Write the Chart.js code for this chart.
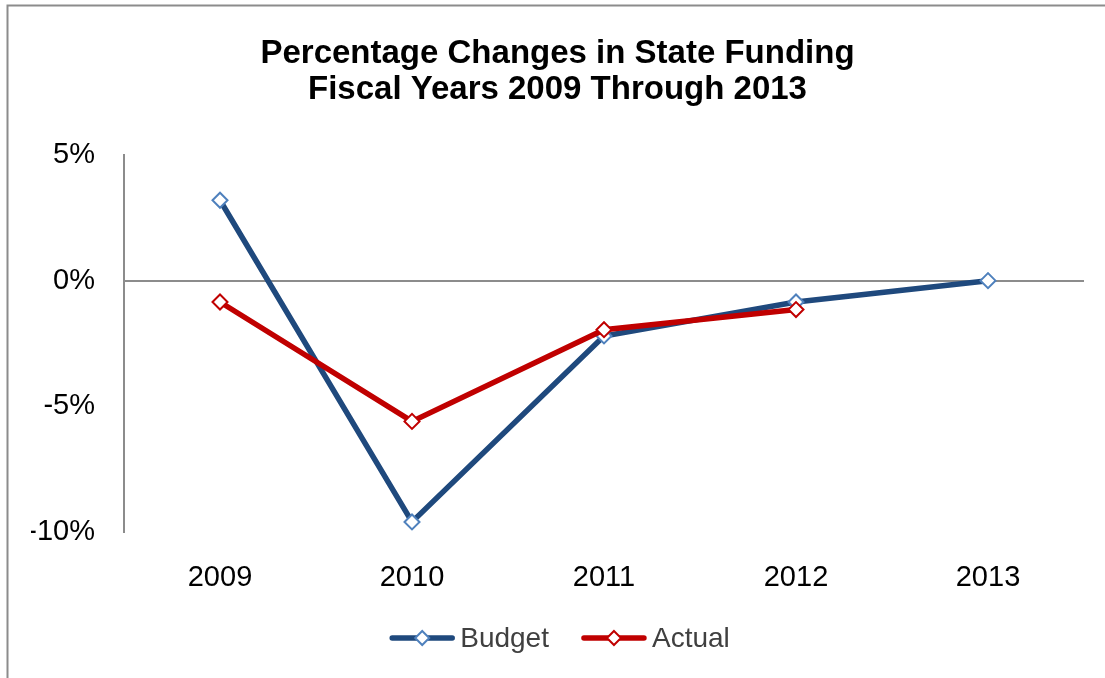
<!DOCTYPE html>
<html>
<head>
<meta charset="utf-8">
<script src="https://cdn.jsdelivr.net/npm/chart.js@4/dist/chart.umd.min.js"></script>
<style>
  html, body { margin: 0; padding: 0; background: #fff; }
  #wrap { position: relative; width: 1105px; height: 678px; }
</style>
</head>
<body>
<div id="wrap"><canvas id="c" width="1105" height="678"></canvas></div>
<script>
const categories = ['2009', '2010', '2011', '2012', '2013'];
const budgetValues = [3.2, -9.6, -2.2, -0.85, 0];
const actualValues = [-0.85, -5.6, -1.95, -1.15, null];
const yTicks = [5, 0, -5, -10];
const titleLines = ['Percentage Changes in State Funding', 'Fiscal Years 2009 Through 2013'];
const seriesNames = ['Budget', 'Actual'];

const BUDGET_LINE = '#1F497D';
const BUDGET_MARK = '#4F81BD';
const ACTUAL_LINE = '#C00000';

const framePlugin = {
  id: 'frame',
  beforeDraw(chart) {
    const ctx = chart.ctx;
    ctx.save();
    ctx.fillStyle = '#fff';
    ctx.fillRect(0, 0, chart.width, chart.height);
    ctx.strokeStyle = '#8c8c8c';
    ctx.lineWidth = 2;
    ctx.strokeRect(7.5, 5.5, 1200, 800);
    ctx.restore();
  }
};

// Legend: line with diamond marker, then the series name (text as real text)
const legendPlugin = {
  id: 'lineLegend',
  afterDraw(chart) {
    const ctx = chart.ctx;
    const items = chart.data.datasets.map(ds => ({
      text: ds.label, line: ds.borderColor, mark: ds.pointBorderColor
    }));
    ctx.save();
    ctx.font = '28px "Liberation Sans"';
    const lineW = 64, gap = 6, spacing = 33;
    const widths = items.map(it => lineW + gap + ctx.measureText(it.text).width);
    const total = widths.reduce((a, b) => a + b, 0) + spacing * (items.length - 1);
    const cx = 560, cy = 638;
    let x = cx - total / 2;
    items.forEach((it, i) => {
      ctx.strokeStyle = it.line; ctx.lineWidth = 5.5; ctx.lineCap = 'round';
      ctx.beginPath(); ctx.moveTo(x + 2, cy); ctx.lineTo(x + lineW - 2, cy); ctx.stroke();
      const mx = x + lineW / 2;
      ctx.fillStyle = '#fff'; ctx.strokeStyle = it.mark; ctx.lineWidth = 2; ctx.lineCap = 'butt';
      ctx.beginPath(); ctx.moveTo(mx, cy - 7); ctx.lineTo(mx + 7, cy); ctx.lineTo(mx, cy + 7); ctx.lineTo(mx - 7, cy); ctx.closePath();
      ctx.fill(); ctx.stroke();
      ctx.fillStyle = '#404040'; ctx.textBaseline = 'middle'; ctx.textAlign = 'left';
      ctx.fillText(it.text, x + lineW + gap, cy + 1);
      x += widths[i] + spacing;
    });
    ctx.restore();
  }
};

const PAD_LEFT = 31;

new Chart(document.getElementById('c'), {
  type: 'line',
  data: {
    labels: categories,
    datasets: [
      {
        label: seriesNames[0],
        data: budgetValues,
        borderColor: BUDGET_LINE,
        borderWidth: 5.5,
        pointStyle: 'rectRot',
        pointRadius: 7.5,
        pointBorderWidth: 2,
        pointBorderColor: BUDGET_MARK,
        pointBackgroundColor: '#fff',
        tension: 0,
        order: 1
      },
      {
        label: seriesNames[1],
        data: actualValues,
        borderColor: ACTUAL_LINE,
        borderWidth: 5.5,
        pointStyle: 'rectRot',
        pointRadius: 7.5,
        pointBorderWidth: 2,
        pointBorderColor: ACTUAL_LINE,
        pointBackgroundColor: '#fff',
        tension: 0,
        spanGaps: false,
        order: 0
      }
    ]
  },
  options: {
    responsive: false,
    animation: false,
    devicePixelRatio: 1,
    layout: { padding: { left: PAD_LEFT, right: 21, top: 0, bottom: 76 } },
    plugins: {
      tooltip: { enabled: false },
      legend: { display: false },
      title: {
        display: true,
        text: titleLines,
        color: '#000',
        font: { family: 'Liberation Sans', size: 33, weight: 'bold', lineHeight: 36 / 33 },
        padding: { top: 36, bottom: 47 }
      }
    },
    scales: {
      x: {
        grid: { display: false, drawTicks: false },
        border: { display: false },
        offset: true,
        afterFit(scale) { scale.height = 70; },
        ticks: { color: '#000', font: { family: 'Liberation Sans', size: 29 }, padding: 29 }
      },
      y: {
        min: -10,
        max: 5,
        afterFit(scale) { scale.width = 124 - PAD_LEFT; },
        afterBuildTicks(scale) { scale.ticks = yTicks.map(v => ({ value: v })); },
        grid: {
          drawTicks: false,
          color: ctx => (ctx.tick && ctx.tick.value === 0) ? '#8c8c8c' : 'rgba(0,0,0,0)',
          lineWidth: 2
        },
        border: { display: true, color: '#8c8c8c', width: 2 },
        ticks: {
          color: '#000',
          font: { family: 'Liberation Sans', size: 29 },
          padding: 29,
          callback: v => v + '%'
        }
      }
    }
  },
  plugins: [framePlugin, legendPlugin]
});
</script>
</body>
</html>
